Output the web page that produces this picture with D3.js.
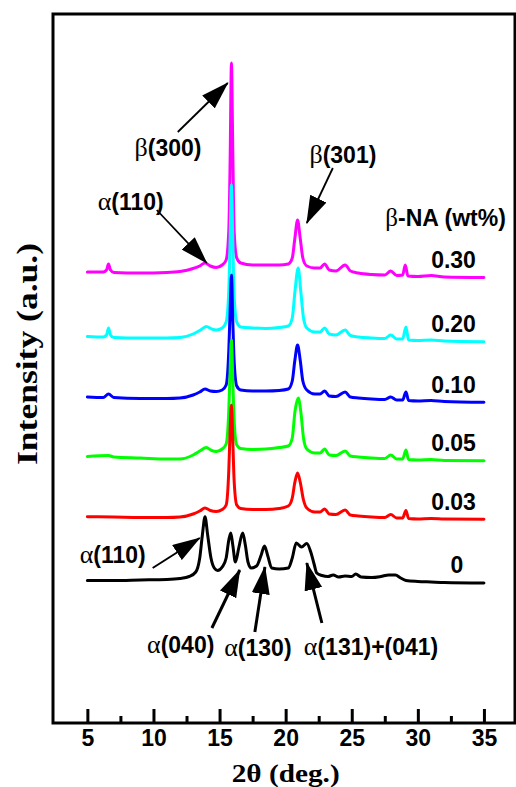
<!DOCTYPE html>
<html>
<head>
<meta charset="utf-8">
<script src="https://cdn.jsdelivr.net/npm/d3@7"></script>
<style>
  body { margin: 0; background: #fff; }
</style>
</head>
<body>
<script>

// XRD patterns, [2theta, intensity (a.u.)]
var s030 = [[5.0,451],[6.2,451],[6.45,453],[6.6,459],[6.75,453],[7.0,450.5],[9.0,450],[11.0,450.5],[12.0,451.5],[13.0,454.5],[13.5,457],[13.9,460],[14.3,457],[14.75,455.5],[15.2,458],[15.5,463],[15.7,493],[15.8,563],[15.9,660],[16.0,573],[16.1,493],[16.3,465],[16.6,460],[17.5,458],[18.5,458],[19.5,458],[20.2,459],[20.5,465],[20.7,485],[20.9,503],[21.1,485],[21.3,465],[21.6,457],[22.2,455],[22.6,455],[22.95,459],[23.3,453],[23.8,452],[24.5,458],[24.9,452],[25.5,450],[26.5,448.5],[27.5,448],[27.95,452],[28.4,447.5],[28.85,448],[29.05,458],[29.25,447],[30.0,446.5],[31.0,447.5],[32.0,446],[35.0,445.5]];
var s020 = [[5.0,386.5],[6.2,386],[6.45,388],[6.6,395],[6.75,388],[7.0,385.5],[9.0,385],[11.0,385],[12.0,385.5],[13.0,389],[13.5,392.5],[14.0,396.5],[14.4,394],[14.75,393],[15.2,395],[15.5,401],[15.7,433],[15.8,483],[15.9,538],[16.0,483],[16.1,428],[16.3,401],[16.6,396],[17.5,395],[18.5,394.5],[19.5,395.5],[20.2,397],[20.5,405],[20.7,431],[20.95,455],[21.15,431],[21.35,405],[21.6,395],[22.2,391],[22.6,391],[22.95,395],[23.3,389],[23.8,388],[24.5,393],[24.9,387.5],[25.5,386],[26.5,385],[27.5,384.5],[27.95,388],[28.4,384],[28.85,384],[29.1,396],[29.3,383],[30.0,382.5],[31.0,383],[32.0,382],[35.0,381.3]];
var s010 = [[5.0,326],[6.2,325.5],[6.6,329],[7.0,325.5],[9.0,324.5],[11.0,324.5],[12.0,325],[13.0,328],[13.5,331],[13.9,334],[14.3,332],[14.75,331.5],[15.2,333],[15.5,338],[15.7,373],[15.8,413],[15.9,448],[16.0,403],[16.1,363],[16.3,337],[16.6,333],[17.5,332],[18.5,332],[19.5,332.5],[20.2,334],[20.5,342],[20.7,363],[20.9,378],[21.1,363],[21.3,342],[21.6,333],[22.2,329],[22.6,329],[22.95,332],[23.3,327],[23.8,326.5],[24.5,331],[24.9,326],[25.5,325],[26.5,324],[27.5,323.5],[27.95,326],[28.4,323],[28.85,323],[29.1,331],[29.3,322.5],[30.0,322],[31.0,322.5],[32.0,321.5],[35.0,320.7]];
var s005 = [[5.0,266.5],[6.6,267.5],[7.0,266],[9.0,265],[11.0,264],[12.0,264],[13.0,268],[13.5,272],[14.0,275.5],[14.4,272.5],[14.75,271.5],[15.2,274],[15.5,279],[15.7,313],[15.8,353],[15.9,383],[16.0,343],[16.1,303],[16.3,278],[16.6,274.5],[17.5,273.5],[18.5,274],[19.5,275.5],[20.2,277],[20.5,285],[20.7,311],[20.95,325],[21.15,311],[21.35,285],[21.6,274],[22.2,270],[22.6,270],[22.95,274],[23.3,268],[23.8,267.5],[24.5,272],[24.9,267],[25.5,266],[26.5,265],[27.5,264.5],[27.95,268],[28.4,264],[28.85,264],[29.1,273],[29.3,263.5],[30.0,263],[31.0,263.5],[32.0,262.5],[35.0,262.3]];
var s003 = [[5.0,206.3],[7.0,206],[9.0,205.5],[11.0,205.5],[12.0,206],[13.0,209],[13.5,212],[13.9,215],[14.3,212.5],[14.75,211.5],[15.2,213.5],[15.5,218],[15.7,253],[15.8,293],[15.9,318],[16.0,283],[16.1,243],[16.3,218],[16.6,214.5],[17.5,213.5],[18.5,213.5],[19.5,214.5],[20.2,217],[20.5,225],[20.7,241],[20.9,250],[21.1,241],[21.35,223],[21.6,215],[22.2,211],[22.6,211],[22.95,214],[23.3,209],[23.8,208.5],[24.5,213],[24.9,208],[25.5,207],[26.5,206],[27.5,205.5],[27.95,208.5],[28.4,205],[28.85,205],[29.1,212.5],[29.3,204.5],[30.0,204],[31.0,204.5],[32.0,204],[35.0,203.7]];
var s000 = [[5.0,142.5],[7.0,142.5],[9.0,143],[11.0,143.5],[12.0,144.5],[12.7,146.5],[13.2,151],[13.5,165],[13.7,188],[13.9,206.3],[14.1,188],[14.35,165],[14.6,155],[14.85,152.5],[15.2,156],[15.5,165],[15.7,183],[15.85,190],[16.0,178],[16.2,161],[16.45,175],[16.75,190],[16.95,178],[17.15,161],[17.4,155],[17.8,157],[18.15,168],[18.4,177],[18.65,167],[18.95,155],[19.5,154],[20.2,155],[20.5,165],[20.8,180],[21.2,176],[21.6,179.5],[21.9,171],[22.15,159],[22.35,150],[22.75,147.5],[23.2,146.5],[23.6,148],[24.0,146],[24.5,147],[25.0,146.5],[25.3,149],[25.7,146],[26.5,145.5],[27.2,146.5],[27.8,148],[28.3,148],[28.7,145],[29.1,142.5],[30.0,141.5],[31.0,141],[32.0,140.5],[35.0,140]];

var contents = ["0.30", "0.20", "0.10", "0.05", "0.03", "0"];
var series = [s030, s020, s010, s005, s003, s000];
var colors = ["#ff00ff", "#00ffff", "#0000ff", "#00ff00", "#ff0000", "#000000"];

var majorTicks = [5, 10, 15, 20, 25, 30, 35];
var minorTicks = [7.5, 12.5, 17.5, 22.5, 27.5, 32.5];

// peak annotations: label position, arrow start, arrow tip (data coords)
var peakNotes = [
    {greek: "\u03b2", text: "(300)", at: [11.1, 575], from: [11.84, 591], to: [15.62, 640], w: 1.8},
    {greek: "\u03b2", text: "(301)", at: [24.33, 568], from: [23.57, 555], to: [21.6, 500], w: 1.8},
    {greek: "\u03b1", text: "(110)", at: [8.28, 521], from: [10.25, 513], to: [14.03, 460], w: 1.8},
    {greek: "\u03b1", text: "(110)", at: [6.92, 168], from: [9.94, 155], to: [13.5, 185], w: 2},
    {greek: "\u03b1", text: "(040)", at: [12.06, 78], from: [14.42, 95], to: [16.53, 153], w: 3},
    {greek: "\u03b1", text: "(130)", at: [17.9, 75], from: [17.67, 91], to: [18.43, 156], w: 3},
    {greek: "\u03b1", text: "(131)+(041)", at: [26.46, 76], from: [22.74, 100], to: [21.6, 160], w: 3}
];

const width = 516;
const height = 787;
const marginTop = 14;
const marginLeft = 53;
const plotRight = 515;
const plotBottom = 723;

const x = d3.scaleLinear()
    .domain([2.4, 37.35])
    .range([marginLeft, plotRight]);

const y = d3.scaleLinear()
    .domain([0, 709])
    .range([plotBottom, marginTop]);

const svg = d3.create("svg")
    .attr("width", width)
    .attr("height", height)
    .attr("viewBox", [0, 0, width, height]);

document.body.appendChild(svg.node());

const sans = "'Liberation Sans', Arial, sans-serif";
const serif = "'Liberation Serif', 'Times New Roman', serif";

// arrowhead marker
svg.append("defs").append("marker")
    .attr("id", "head")
    .attr("markerUnits", "userSpaceOnUse")
    .attr("viewBox", "0 0 28 18")
    .attr("refX", 27)
    .attr("refY", 9)
    .attr("markerWidth", 28)
    .attr("markerHeight", 18)
    .attr("orient", "auto")
    .append("path")
    .attr("d", "M0,0 L28,9 L0,18 Z")
    .attr("fill", "black");

// the patterns, lowest curve drawn last
const line = d3.line()
    .x(d => x(d[0]))
    .y(d => y(d[1]))
    .curve(d3.curveMonotoneX);

svg.append("g")
    .attr("fill", "none")
    .attr("stroke-width", 3)
    .attr("stroke-linejoin", "round")
    .attr("stroke-linecap", "round")
    .selectAll()
    .data(series)
    .join("path")
    .attr("stroke", (d, i) => colors[i])
    .attr("d", line);

// content labels on the right
svg.append("g")
    .attr("font-family", sans)
    .attr("font-weight", "bold")
    .attr("font-size", 23)
    .attr("text-anchor", "middle")
    .selectAll()
    .data(series)
    .join("text")
    .attr("x", (d, i) => contents[i] == "0" ? x(32.95) : x(32.7))
    .attr("y", d => y(d[d.length - 1][1] + 18))
    .attr("dy", "0.36em")
    .text((d, i) => contents[i]);

const legendTitle = svg.append("text")
    .attr("x", x(32.1))
    .attr("y", y(505))
    .attr("dy", "0.36em")
    .attr("text-anchor", "middle")
    .attr("font-family", sans)
    .attr("font-weight", "bold")
    .attr("font-size", 23);
legendTitle.append("tspan").attr("font-family", serif).attr("font-weight", "normal").attr("font-size", 25).text("\u03b2");
legendTitle.append("tspan").text("-NA (wt%)");

// peak labels and arrows
svg.append("g")
    .attr("stroke", "black")
    .selectAll()
    .data(peakNotes)
    .join("line")
    .attr("x1", d => x(d.from[0]))
    .attr("y1", d => y(d.from[1]))
    .attr("x2", d => x(d.to[0]))
    .attr("y2", d => y(d.to[1]))
    .attr("stroke-width", d => d.w)
    .attr("marker-end", "url(#head)");

const notes = svg.append("g")
    .attr("font-family", sans)
    .attr("font-weight", "bold")
    .attr("font-size", 23)
    .attr("text-anchor", "middle")
    .selectAll()
    .data(peakNotes)
    .join("text")
    .attr("x", d => x(d.at[0]))
    .attr("y", d => y(d.at[1]))
    .attr("dy", "0.36em");
notes.append("tspan").attr("font-family", serif).attr("font-weight", "normal").attr("font-size", 26).text(d => d.greek);
notes.append("tspan").text(d => d.text);

// frame
svg.append("rect")
    .attr("x", marginLeft)
    .attr("y", marginTop)
    .attr("width", plotRight - marginLeft)
    .attr("height", plotBottom - marginTop)
    .attr("fill", "none")
    .attr("stroke", "black")
    .attr("stroke-width", 3);

// bottom axis, ticks pointing inward
svg.append("g")
    .attr("transform", `translate(0,${plotBottom})`)
    .call(d3.axisBottom(x).tickValues(majorTicks).tickSizeInner(-14).tickSizeOuter(0).tickPadding(7))
    .call(g => g.select(".domain").remove())
    .call(g => g.selectAll(".tick line").attr("stroke-width", 3))
    .call(g => g.selectAll(".tick text")
        .attr("font-family", sans)
        .attr("font-weight", "bold")
        .attr("font-size", 23));

svg.append("g")
    .attr("transform", `translate(0,${plotBottom})`)
    .call(d3.axisBottom(x).tickValues(minorTicks).tickSizeInner(-7).tickSizeOuter(0).tickFormat(""))
    .call(g => g.select(".domain").remove())
    .call(g => g.selectAll(".tick line").attr("stroke-width", 3));

// axis titles
svg.append("text")
    .attr("x", x(20))
    .attr("y", 773)
    .attr("dy", "0.36em")
    .attr("text-anchor", "middle")
    .attr("font-family", serif)
    .attr("font-weight", "bold")
    .attr("font-size", 26)
    .attr("textLength", 108)
    .attr("lengthAdjust", "spacingAndGlyphs")
    .text("2\u03b8 (deg.)");

svg.append("text")
    .attr("transform", "translate(26,354) rotate(-90)")
    .attr("dy", "0.36em")
    .attr("text-anchor", "middle")
    .attr("font-family", serif)
    .attr("font-weight", "bold")
    .attr("font-size", 30)
    .attr("textLength", 222)
    .attr("lengthAdjust", "spacingAndGlyphs")
    .text("Intensity (a.u.)");

</script>
</body>
</html>
